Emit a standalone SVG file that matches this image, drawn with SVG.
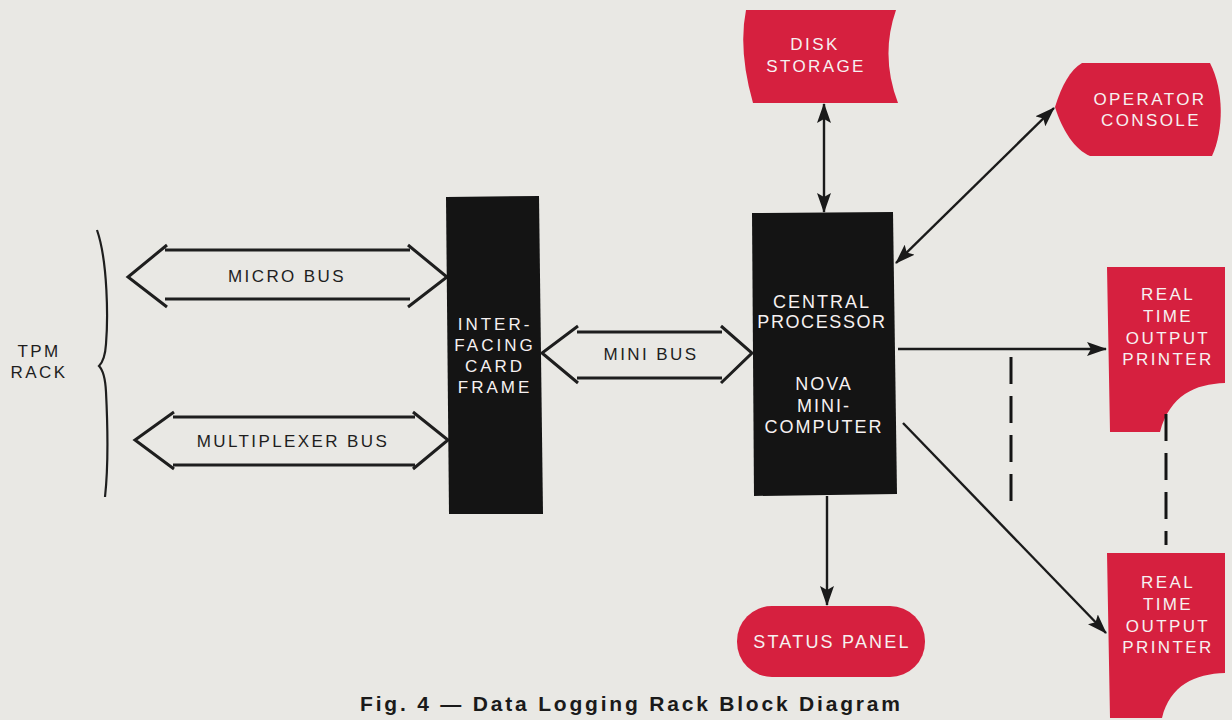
<svg xmlns="http://www.w3.org/2000/svg" width="1232" height="720" viewBox="0 0 1232 720">
<defs>
<style>
.bg{fill:#e9e8e4}
.red{fill:#d6203f}
.blk{fill:#141414}
.wt{font-family:"Liberation Sans",Arial,sans-serif;font-size:17px;letter-spacing:2.4px;fill:#f6f1f1;text-anchor:middle}
.dk{font-family:"Liberation Sans",Arial,sans-serif;font-size:17px;letter-spacing:2.4px;fill:#1e1e1e;text-anchor:middle}
.bus{fill:none;stroke:#1e1e1e;stroke-width:3;stroke-linejoin:miter}
.con{fill:none;stroke:#1a1a1a;stroke-width:2.4}
.dash{fill:none;stroke:#141414;stroke-width:3;stroke-dasharray:27 12}
.cap{font-family:"Liberation Sans",Arial,sans-serif;font-size:21px;font-weight:bold;fill:#1a1a1a;text-anchor:middle}
</style>
<marker id="ah" viewBox="0 0 20 14" refX="19" refY="7" markerWidth="20" markerHeight="14" markerUnits="userSpaceOnUse" orient="auto-start-reverse">
<path d="M0,0 L20,7 L0,14 L4,7 Z" fill="#1a1a1a"/>
</marker>
</defs>
<rect class="bg" x="0" y="0" width="1232" height="720"/>

<g id="tpm-rack">
<path d="M97,230 C108,262 108,320 106,344 Q105,360 99,366 Q105,372 106,392 C108,432 108,470 105,497" fill="none" stroke="#1e1e1e" stroke-width="2.2"/>
<text class="dk" x="39" y="357">TPM</text>
<text class="dk" x="39" y="378">RACK</text>
</g>

<g id="micro-bus">
<path class="bus" d="M165,250 L410,250 M165,299 L410,299 M167,245 L128,277 L167,307 M408,245 L447,277 L408,307"/>
<text class="dk" x="287" y="282">MICRO BUS</text>
</g>

<g id="multiplexer-bus">
<path class="bus" d="M173,417 L415,417 M173,465 L415,465 M174,412 L135,440 L174,469 M413,412 L448,440 L413,469"/>
<text class="dk" x="293" y="447">MULTIPLEXER BUS</text>
</g>

<g id="interfacing-card-frame">
<polygon class="blk" points="446,197 539,196 543,514 449,514"/>
<text class="wt" x="495" y="330" style="letter-spacing:3px">INTER-</text>
<text class="wt" x="495" y="351" style="letter-spacing:3px">FACING</text>
<text class="wt" x="495" y="372" style="letter-spacing:3px">CARD</text>
<text class="wt" x="495" y="393" style="letter-spacing:3px">FRAME</text>
</g>

<g id="mini-bus">
<path class="bus" d="M577,332 L722,332 M577,378 L722,378 M578,326 L542,353 L578,383 M721,326 L752,353 L721,383"/>
<text class="dk" x="651" y="360">MINI BUS</text>
</g>

<g id="central-processor">
<polygon class="blk" points="752,213 893,212 897,494 754,496"/>
<text class="wt" x="822" y="308" style="font-size:18px;letter-spacing:2px">CENTRAL</text>
<text class="wt" x="822" y="328" style="font-size:18px;letter-spacing:1.6px">PROCESSOR</text>
<text class="wt" x="824" y="390" style="font-size:18px;letter-spacing:2px">NOVA</text>
<text class="wt" x="824" y="412" style="font-size:18px;letter-spacing:2px">MINI-</text>
<text class="wt" x="824" y="433" style="font-size:18px;letter-spacing:2px">COMPUTER</text>
</g>

<g id="disk-storage">
<path class="red" d="M746,10 L896,10 Q880,56 898,103 L753,103 Q738,50 746,10 Z"/>
<text class="wt" x="815" y="50">DISK</text>
<text class="wt" x="816" y="72">STORAGE</text>
</g>

<g id="operator-console">
<path class="red" d="M1055,107 C1062,85 1070,70 1082,63 L1210,63 C1224,90 1224,130 1212,156 L1090,156 C1075,150 1062,130 1055,107 Z"/>
<text class="wt" x="1150" y="105">OPERATOR</text>
<text class="wt" x="1151" y="126">CONSOLE</text>
</g>

<g id="printer-1">
<path class="red" d="M1107,267 L1225,267 L1225,383 C1195,384 1170,395 1160,432 L1110,432 Z"/>
<text class="wt" x="1168" y="300">REAL</text>
<text class="wt" x="1168" y="322">TIME</text>
<text class="wt" x="1168" y="344">OUTPUT</text>
<text class="wt" x="1168" y="365">PRINTER</text>
</g>

<g id="printer-2">
<path class="red" d="M1107,553 L1225,553 L1225,673 C1195,674 1170,685 1162,718 L1110,718 Z"/>
<text class="wt" x="1168" y="588">REAL</text>
<text class="wt" x="1168" y="610">TIME</text>
<text class="wt" x="1168" y="632">OUTPUT</text>
<text class="wt" x="1168" y="653">PRINTER</text>
</g>

<g id="status-panel">
<rect class="red" x="737" y="606" width="188" height="71" rx="35" ry="35"/>
<text class="wt" x="832" y="648" style="font-size:18px;letter-spacing:2.2px">STATUS PANEL</text>
</g>

<g id="connectors">
<line class="con" x1="824" y1="104" x2="824" y2="212" marker-start="url(#ah)" marker-end="url(#ah)"/>
<line class="con" x1="896" y1="263" x2="1054" y2="108" marker-start="url(#ah)" marker-end="url(#ah)"/>
<line class="con" x1="898" y1="349" x2="1106" y2="349" marker-end="url(#ah)"/>
<line class="con" x1="903" y1="423" x2="1106" y2="633" marker-end="url(#ah)"/>
<line class="con" x1="827" y1="496" x2="827" y2="605" marker-end="url(#ah)"/>
<line class="dash" x1="1011" y1="357" x2="1011" y2="508"/>
<line class="dash" x1="1166" y1="414" x2="1166" y2="545"/>
</g>

<g id="caption">
<text class="cap" x="630" y="711" textLength="540" lengthAdjust="spacing">Fig. 4 — Data Logging Rack Block Diagram</text>
</g>
</svg>
